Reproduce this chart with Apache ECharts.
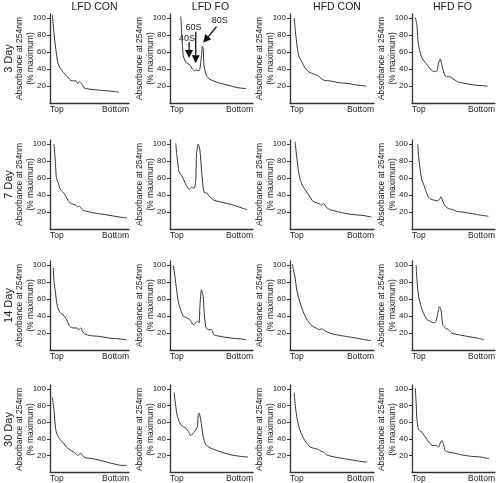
<!DOCTYPE html>
<html><head><meta charset="utf-8">
<script src="https://cdn.jsdelivr.net/npm/echarts@6/dist/echarts.min.js"></script>
<style>html,body{margin:0;padding:0;background:#fff}#c{width:498px;height:483px}</style>
</head><body><div id="c"></div>
<script>
// column (diet) and row (time) labels
const groups = ['LFD CON', 'LFD FO', 'HFD CON', 'HFD FO'];
const days = ['3 Day', '7 Day', '14 Day', '30 Day'];
const yTicks = [20, 40, 60, 80, 100];
const xTickLabels = ['Top', 'Bottom'];
const yName1 = 'Absorbance at 254nm';
const yName2 = '(% maximum)';

// traces: [position % from top to bottom, absorbance % max]
const lfdCon3 = [[3,104],[5.5,78],[8,59],[10,47],[13,41],[17,36],[21,32],[26,27],[30,26],[33,26],[35,23],[37,25],[40,23],[43,18],[46,17],[53,16],[64,15],[77,14],[87,13]];
const lfdFo3 = [[13,102],[14,84],[15,68],[16,56],[18,50],[20,47],[24,45],[27,40],[30,38],[32,39],[35,38],[36,40],[38,56],[39,67],[40,64],[41,44],[44,32],[48,28],[58,24],[70,21],[82,18],[92,17]];
const hfdCon3 = [[5,100],[7,79],[9,63],[11,54],[15,47],[18,41],[22,37],[26,35],[32,33],[36,30],[40,27],[48,26],[58,24],[69,23],[81,21],[91,20]];
const hfdFo3 = [[4,101],[6,91],[7,75],[9,63],[12,53],[15,49],[19,44],[23,39],[27,37],[30,38],[32,47],[34,52],[36,45],[38,37],[41,31],[45,31],[49,29],[55,25],[65,23],[77,21],[91,20]];

const lfdCon7 = [[5,100],[7,77],[8,61],[11,53],[13,47],[17,43],[21,37],[25,31],[30,29],[33,28],[35,26],[37,27],[39,25],[42,22],[46,21],[55,19],[63,18],[76,16],[89,14],[98,13]];
const lfdFo7 = [[7,101],[8,89],[10,73],[11,67],[14,63],[17,57],[20,51],[23,47],[26,49],[29,48],[31,57],[32,89],[34,100],[36,93],[38,69],[40,49],[42,42],[44,43],[47,39],[53,34],[65,31],[77,28],[89,24],[93,23]];
const hfdCon7 = [[6,103],[8,85],[10,69],[12,59],[15,51],[19,45],[23,39],[27,33],[31,31],[35,30],[37,28],[40,30],[43,26],[47,23],[55,21],[63,19],[75,17],[87,16],[97,14]];
const hfdFo7 = [[7,100],[8,85],[10,69],[12,57],[14,53],[16,47],[19,39],[23,35],[27,34],[31,33],[33,35],[35,38],[37,33],[40,27],[44,24],[49,23],[53,21],[61,20],[73,18],[85,16],[92,15]];

const lfdCon14 = [[4,97],[5,82],[7,67],[9,53],[11,47],[14,43],[18,40],[22,34],[25,28],[30,26],[34,26],[36,24],[39,26],[41,22],[44,19],[51,17],[63,16],[76,14],[89,13],[97,12]];
const lfdFo14 = [[4,100],[6,86],[8,71],[10,57],[13,47],[16,40],[20,38],[24,36],[28,30],[31,32],[33,34],[35,32],[36,51],[38,71],[40,63],[41,47],[43,28],[46,24],[50,24],[53,18],[61,16],[74,14],[86,13],[92,12]];
const hfdCon14 = [[3,101],[4,95],[6,86],[8,71],[11,59],[15,47],[19,38],[23,32],[27,28],[31,26],[35,24],[38,25],[41,23],[47,20],[55,18],[67,16],[79,14],[90,12],[96,11]];
const hfdFo14 = [[5,100],[6,82],[8,63],[11,51],[14,43],[18,36],[22,34],[26,32],[29,34],[31,43],[33,51],[35,47],[37,30],[40,26],[44,24],[48,20],[56,18],[67,16],[79,14],[87,12]];

const lfdCon30 = [[3,90],[5,75],[7,53],[9,45],[13,39],[17,35],[21,30],[25,27],[30,24],[33,22],[35,20],[37,21],[39,23],[42,19],[46,17],[55,16],[68,13],[80,10],[91,8],[97,8]];
const lfdFo30 = [[5,96],[7,79],[9,67],[12,59],[15,55],[19,53],[22,49],[25,44],[28,47],[30,49],[33,55],[34,69],[35,71],[37,63],[40,43],[43,33],[47,30],[51,28],[59,25],[72,21],[84,19],[94,18]];
const hfdCon30 = [[5,96],[6,83],[8,67],[11,53],[15,43],[19,36],[23,31],[27,29],[31,28],[34,27],[37,25],[40,24],[43,21],[49,19],[59,17],[71,15],[83,13],[90,12],[92,13]];
const hfdFo30 = [[4,101],[5,83],[6,63],[8,51],[11,49],[14,45],[17,41],[21,35],[25,32],[29,32],[32,30],[34,35],[36,38],[38,33],[40,26],[44,24],[50,23],[58,21],[71,19],[83,18],[93,16]];

const traces = [
  [lfdCon3, lfdFo3, hfdCon3, hfdFo3],
  [lfdCon7, lfdFo7, hfdCon7, hfdFo7],
  [lfdCon14, lfdFo14, hfdCon14, hfdFo14],
  [lfdCon30, lfdFo30, hfdCon30, hfdFo30]
];

// ribosome annotations on LFD FO 3 Day: [label, text pos, arrow tail, arrow tip] in data units
const annLabels = ['40S', '60S', '80S'];
const annText = [[20.5,76.5],[28.3,89],[60,97]];
const annTail = [[23,72],[31,84],[56,90]];
const annTip = [[23,53],[31,47],[40,71]];

// layout
const colLeft = [50, 170, 290, 412];
const colWidth = [79, 83, 84, 83];
const rowTop = [14, 140, 261, 385];
const rowHeight = 89;
const FONT = 'Liberation Sans, Arial, sans-serif';
const INK = '#1a1a1a';

const grid = [], xAxis = [], yAxis = [], series = [];
let k = 0;
for (let r = 0; r < 4; r++) {
  for (let c = 0; c < 4; c++) {
    grid.push({left: colLeft[c], width: colWidth[c], top: rowTop[r], height: rowHeight});
    xAxis.push({
      type: 'value', gridIndex: k, min: 0, max: 100,
      axisLine: {show: true, onZero: false, lineStyle: {color: '#333', width: 1.3}},
      axisTick: {show: false}, splitLine: {show: false},
      axisLabel: {
        customValues: [0, 100], margin: 2, color: INK, fontSize: 8.5, fontFamily: FONT,
        alignMinLabel: 'left', alignMaxLabel: 'right',
        formatter: v => v === 0 ? xTickLabels[0] : xTickLabels[1]
      }
    });
    yAxis.push({
      type: 'value', gridIndex: k, min: 0, max: 105,
      axisLine: {show: true, onZero: false, lineStyle: {color: '#333', width: 1.3}},
      axisTick: {show: true, customValues: yTicks, length: 3, lineStyle: {color: '#333'}},
      splitLine: {show: false},
      axisLabel: {customValues: yTicks, margin: 4, color: INK, fontSize: 8, fontFamily: FONT}
    });
    series.push({
      type: 'line', xAxisIndex: k, yAxisIndex: k, data: traces[r][c],
      showSymbol: false, smooth: 0.25, lineStyle: {color: '#333', width: 1}, silent: true
    });
    k++;
  }
}

const graphic = [];
// column titles
groups.forEach((g, c) => {
  graphic.push({type: 'text', x: colLeft[c] + colWidth[c] / 2 + (c % 2 === 0 ? 5 : -1), y: 7,
    style: {text: g, align: 'center', verticalAlign: 'middle', fontSize: 10.5, fontFamily: FONT, fill: INK}});
});
// row labels
days.forEach((d, r) => {
  graphic.push({type: 'text', x: 9, y: rowTop[r] + rowHeight / 2, rotation: Math.PI / 2,
    style: {text: d, align: 'center', verticalAlign: 'middle', fontSize: 11, fontFamily: FONT, fill: INK}});
});
// y axis titles
for (let r = 0; r < 4; r++) {
  for (let c = 0; c < 4; c++) {
    const cy = rowTop[r] + rowHeight / 2;
    graphic.push({type: 'text', x: colLeft[c] - 30.5, y: cy, rotation: Math.PI / 2,
      style: {text: yName1, align: 'center', verticalAlign: 'middle', fontSize: 8.5, fontFamily: FONT, fill: INK}});
    graphic.push({type: 'text', x: colLeft[c] - 19.5, y: cy, rotation: Math.PI / 2,
      style: {text: yName2, align: 'center', verticalAlign: 'middle', fontSize: 8.5, fontFamily: FONT, fill: INK}});
  }
}

const chart = echarts.init(document.getElementById('c'), null, {renderer: 'canvas'});
chart.setOption({animation: false, backgroundColor: '#fff', grid, xAxis, yAxis, series, graphic});

// annotation arrows on panel (row 0, col 1) positioned through its data scale
const ann = [];
annLabels.forEach((lab, i) => {
  const t = chart.convertToPixel({gridIndex: 1}, annText[i]);
  const a = chart.convertToPixel({gridIndex: 1}, annTail[i]);
  const b = chart.convertToPixel({gridIndex: 1}, annTip[i]);
  const dx = b[0] - a[0], dy = b[1] - a[1], L = Math.hypot(dx, dy);
  const ux = dx / L, uy = dy / L, hl = 8, hw = 4;
  const bx = b[0] - ux * hl, by = b[1] - uy * hl;
  ann.push({type: 'text', x: t[0], y: t[1],
    style: {text: lab, align: 'center', verticalAlign: 'middle', fontSize: 9, fontFamily: FONT, fill: INK}});
  ann.push({type: 'line', shape: {x1: a[0], y1: a[1], x2: bx, y2: by}, style: {stroke: '#111', lineWidth: 1.3}});
  ann.push({type: 'polygon', shape: {points: [[b[0], b[1]], [bx - uy * hw, by + ux * hw], [bx + uy * hw, by - ux * hw]]},
    style: {fill: '#111'}});
});
chart.setOption({graphic: graphic.concat(ann)});
</script>
</body></html>
